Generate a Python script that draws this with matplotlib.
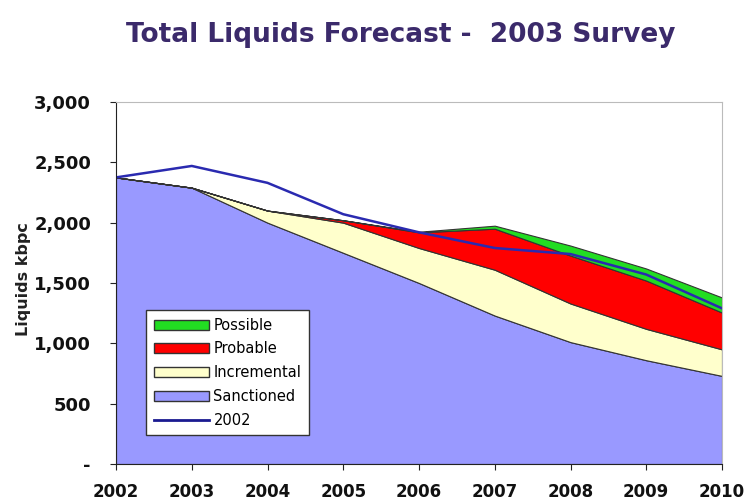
import numpy as np
import matplotlib.pyplot as plt
from matplotlib.patches import Patch
from matplotlib.lines import Line2D
from matplotlib.ticker import FuncFormatter

# Data (kbpd, stacked layers)
years = [2002, 2003, 2004, 2005, 2006, 2007, 2008, 2009, 2010]
sanctioned = [2375, 2290, 2000, 1750, 1500, 1230, 1010, 860, 730]
incremental = [0, 0, 100, 250, 290, 380, 320, 260, 220]
probable = [0, 0, 0, 20, 130, 340, 397, 400, 305]
possible = [0, 0, 0, 0, 5, 25, 83, 100, 125]
survey_2002 = [2375, 2470, 2330, 2070, 1920, 1790, 1740, 1570, 1290]

colors = ['#9999ff', '#ffffcc', '#ff0000', '#22dd22']
labels = ['Sanctioned', 'Incremental', 'Probable', 'Possible']

fig = plt.figure(figsize=(7.49, 5.03), dpi=100)
ax = fig.add_axes([116 / 749, 1 - 464 / 503, (722 - 116) / 749, (464 - 102) / 503])

ax.stackplot(years, sanctioned, incremental, probable, possible,
             colors=colors, edgecolor='#333333', linewidth=0.8)
ax.plot(years, survey_2002, color='#2a2ab0', linewidth=1.8)

ax.set_xlim(2002, 2010)
ax.set_ylim(0, 3000)
ax.set_yticks(np.arange(0, 3001, 500))
ax.yaxis.set_major_formatter(FuncFormatter(lambda v, p: '-' if v == 0 else f'{int(v):,}'))
ax.set_xticks(years)

for s in ['top', 'right']:
    ax.spines[s].set_color('#bbbbbb')
for s in ['left', 'bottom']:
    ax.spines[s].set_color('#222222')
ax.tick_params(axis='both', direction='out', length=4, color='#222222')
ax.tick_params(axis='y', labelsize=13, pad=14)
ax.tick_params(axis='x', labelsize=12, pad=10)
for t in ax.get_xticklabels() + ax.get_yticklabels():
    t.set_fontweight('bold')
    t.set_color('#111111')

ax.set_ylabel('Liquids kbpc', fontsize=11.5, fontweight='bold', color='#222222')
ax.yaxis.set_label_coords(-0.14, 0.51)

fig.text(0.535, 0.93, 'Total Liquids Forecast -  2003 Survey', ha='center', va='center',
         fontsize=19, fontweight='bold', color='#3b2a6b')

handles = [Patch(facecolor=colors[3], edgecolor='#333333', label='Possible'),
           Patch(facecolor=colors[2], edgecolor='#333333', label='Probable'),
           Patch(facecolor=colors[1], edgecolor='#333333', label='Incremental'),
           Patch(facecolor=colors[0], edgecolor='#333333', label='Sanctioned'),
           Line2D([0], [0], color='#1a1a90', linewidth=2, label='2002')]
leg = ax.legend(handles=handles, loc='lower left', bbox_to_anchor=(0.05, 0.08),
                fontsize=10.5, frameon=True, fancybox=False, borderpad=0.5,
                labelspacing=0.6, handlelength=3.8, handletextpad=0.3,
                borderaxespad=0.0)
leg.get_frame().set_edgecolor('#333333')
leg.get_frame().set_facecolor('white')
leg.get_frame().set_alpha(1)
leg.get_frame().set_linewidth(1.0)

fig.savefig('out.png', dpi=100)
